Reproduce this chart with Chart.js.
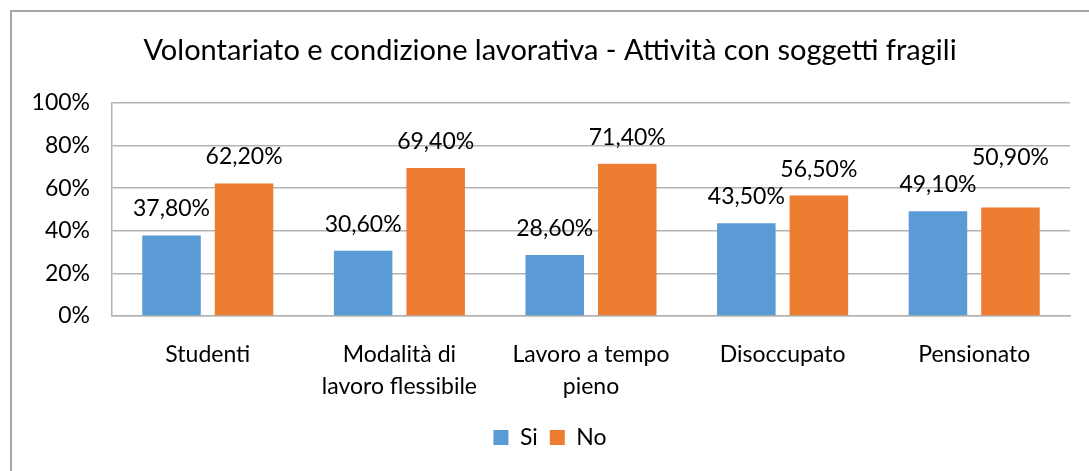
<!DOCTYPE html>
<html>
<head>
<meta charset="utf-8">
<script src="https://cdn.jsdelivr.net/npm/chart.js@4"></script>
<style>
  html, body { margin: 0; padding: 0; background: #fff; }
  #wrap { width: 1089px; height: 471px; }
</style>
</head>
<body>
<div id="wrap"><canvas id="volontariatoChart" width="1089" height="471"></canvas></div>
<script>
const categories = [
  'Studenti',
  ['Modalità di', 'lavoro flessibile'],
  ['Lavoro a tempo', 'pieno'],
  'Disoccupato',
  'Pensionato'
];
const siValues = [37.8, 30.6, 28.6, 43.5, 49.1];
const noValues = [62.2, 69.4, 71.4, 56.5, 50.9];
const yTicks = [0, 20, 40, 60, 80, 100];

const FONT = 'Lato, "Open Sans", sans-serif';

// etichette sopra le barre, stile Excel "37,80%"
const barLabels = {
  id: 'barLabels',
  afterDatasetsDraw(chart) {
    const ctx = chart.ctx;
    ctx.save();
    ctx.font = '23px ' + FONT;
    ctx.fillStyle = '#000';
    ctx.textAlign = 'center';
    ctx.textBaseline = 'alphabetic';
    const siBars = chart.getDatasetMeta(0).data;
    const noBars = chart.getDatasetMeta(1).data;
    const fmt = v => v.toFixed(2).replace('.', ',') + '%';
    siBars.forEach((bar, j) => {
      const siTxt = fmt(siValues[j]);
      const noTxt = fmt(noValues[j]);
      const siY = bar.y - 19;
      let noY = noBars[j].y - 19;
      const nb = noBars[j];
      const siRight = bar.x + ctx.measureText(siTxt).width / 2;
      const noLeft = nb.x - ctx.measureText(noTxt).width / 2;
      // se le etichette si sovrappongono, alza quella del "No"
      if (siRight > noLeft && Math.abs(siY - noY) < 24) {
        noY = Math.min(noY, siY - 27);
      }
      ctx.fillText(siTxt, bar.x, siY);
      ctx.fillText(noTxt, nb.x, noY);
    });
    ctx.restore();
  }
};

// bordo grigio del grafico (solo in alto e a sinistra, come nel ritaglio)
const frame = {
  id: 'frame',
  beforeDraw(chart) {
    const ctx = chart.ctx;
    ctx.save();
    ctx.fillStyle = '#fff';
    ctx.fillRect(0, 0, chart.width, chart.height);
    ctx.strokeStyle = '#A6A6A6';
    ctx.lineWidth = 2;
    ctx.beginPath();
    ctx.moveTo(11, chart.height);
    ctx.lineTo(11, 11);
    ctx.lineTo(chart.width, 11);
    ctx.stroke();
    ctx.restore();
  }
};

new Chart(document.getElementById('volontariatoChart'), {
  type: 'bar',
  data: {
    labels: categories,
    datasets: [
      {
        label: 'Si',
        data: siValues,
        backgroundColor: '#5B9BD5',
        borderWidth: 0,
        categoryPercentage: 0.757,
        barPercentage: 0.807
      },
      {
        label: 'No',
        data: noValues,
        backgroundColor: '#ED7D31',
        borderWidth: 0,
        categoryPercentage: 0.757,
        barPercentage: 0.807
      }
    ]
  },
  options: {
    responsive: false,
    animation: false,
    layout: { padding: { left: 30, right: 19, top: 33, bottom: 12 } },
    plugins: {
      title: {
        display: true,
        text: 'Volontariato e condizione lavorativa - Attività con soggetti fragili',
        color: '#000',
        font: { family: FONT, size: 29, weight: 'normal' },
        padding: { top: 0, bottom: 35 }
      },
      legend: {
        position: 'bottom',
        labels: {
          color: '#000',
          font: { family: FONT, size: 23 },
          boxWidth: 15,
          boxHeight: 15,
          padding: 12
        }
      },
      tooltip: { enabled: false }
    },
    scales: {
      y: {
        min: 0,
        max: 100,
        afterBuildTicks(scale) {
          scale.ticks = yTicks.map(v => ({ value: v }));
        },
        afterFit(scale) { scale.width = 82; },
        ticks: {
          color: '#000',
          font: { family: FONT, size: 23 },
          padding: 22,
          callback: v => v + '%'
        },
        grid: { color: '#B3B3B3', lineWidth: 1.5, drawTicks: false },
        border: { display: true, color: '#B3B3B3', width: 1.5 }
      },
      x: {
        afterFit(scale) { scale.height = 98; },
        ticks: {
          color: '#000',
          font: { family: FONT, size: 23, lineHeight: 1.4 },
          padding: 14,
          maxRotation: 0
        },
        grid: { display: false },
        border: { display: true, color: '#B3B3B3', width: 1.5 }
      }
    }
  },
  plugins: [frame, barLabels]
});
</script>
</body>
</html>
